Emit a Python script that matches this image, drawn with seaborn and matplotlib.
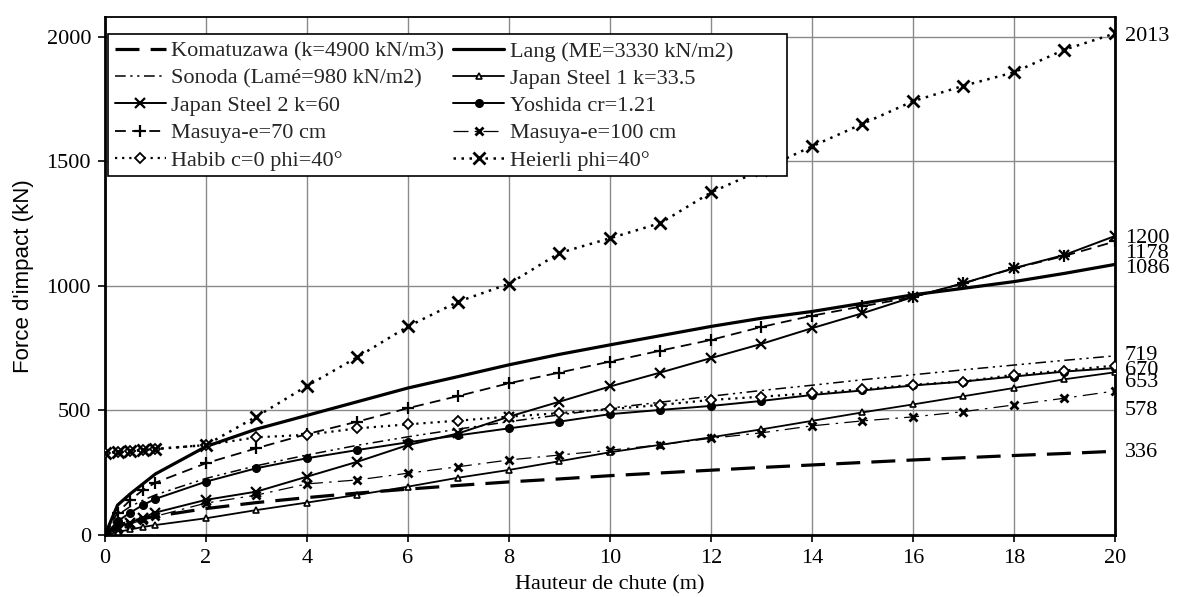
import matplotlib
matplotlib.use("Agg")
import matplotlib.pyplot as plt
from matplotlib.patches import Rectangle
import numpy as np
import pandas as pd
import seaborn as sns

# ---------------- data ----------------
hauteur = [0, 0.25, 0.5, 0.75, 1, 2, 3, 4, 5, 6, 7, 8, 9, 10, 11, 12,
           13, 14, 15, 16, 17, 18, 19, 20]

komatuzawa = [0, 38, 53, 65, 75, 106, 130, 150, 168, 184, 199, 213, 225, 238,
              249, 260, 271, 281, 291, 301, 310, 319, 327, 336]
lang = [0, 120, 165, 205, 245, 355, 425, 480, 535, 590, 636, 683, 725, 763,
        800, 837, 870, 897, 930, 964, 990, 1017, 1050, 1086]
sonoda = [0, 80, 114, 139, 161, 227, 278, 321, 360, 394, 425, 455, 482, 509,
          533, 557, 580, 601, 623, 643, 663, 682, 701, 719]
japan_steel_1 = [0, 12, 22, 32, 40, 67, 100, 130, 161, 194, 230, 261, 296, 332,
                 362, 392, 424, 458, 492, 524, 557, 590, 625, 653]
japan_steel_2 = [0, 30, 50, 70, 90, 141, 174, 234, 294, 361, 408, 475, 535, 596,
                 652, 710, 767, 830, 890, 955, 1011, 1071, 1124, 1200]
yoshida = [0, 55, 90, 120, 145, 214, 268, 308, 341, 372, 400, 428, 455, 485,
           502, 518, 538, 562, 580, 600, 616, 636, 656, 670]
masuya_70 = [0, 90, 140, 180, 210, 288, 348, 405, 455, 509, 558, 609, 652, 696,
             740, 783, 835, 880, 918, 955, 1010, 1070, 1120, 1178]
masuya_100 = [0, 25, 45, 60, 75, 128, 160, 205, 221, 248, 274, 301, 321, 340,
              362, 388, 410, 438, 458, 474, 495, 522, 549, 578]
habib = [330, 332, 336, 341, 345, 361, 392, 402, 428, 444, 459, 475, 489, 505,
         522, 542, 555, 569, 585, 603, 616, 643, 660, 680]
heierli = [330, 332, 336, 341, 345, 361, 475, 598, 714, 837, 937, 1008, 1132, 1191,
           1252, 1375, 1465, 1560, 1650, 1741, 1803, 1857, 1948, 2013]

labels = ["Komatuzawa (k=4900 kN/m3)", "Lang (ME=3330 kN/m2)",
          "Sonoda (Lamé=980 kN/m2)", "Japan Steel 1 k=33.5",
          "Japan Steel 2 k=60", "Yoshida cr=1.21",
          "Masuya-e=70 cm", "Masuya-e=100 cm",
          "Habib c=0 phi=40°", "Heierli phi=40°"]
series = [komatuzawa, lang, sonoda, japan_steel_1, japan_steel_2, yoshida,
          masuya_70, masuya_100, habib, heierli]

# ---------------- styles ----------------
styles = [
    dict(lw=2.3, dashes=(7.5, 3.5), marker=None),
    dict(lw=2.3, dashes=None, marker=None),
    dict(lw=1.1, dashes=(7, 3, 1.5, 3, 1.5, 3), marker=None),
    dict(lw=1.3, dashes=None, marker="^", ms=5, mfc="white", mew=1.2),
    dict(lw=1.4, dashes=None, marker="x", ms=7, mfc="black", mew=1.6),
    dict(lw=1.4, dashes=None, marker="o", ms=5.5, mfc="black", mew=1.0),
    dict(lw=1.3, dashes=(6, 3.5), marker="+", ms=8, mfc="black", mew=1.6),
    dict(lw=0.9, dashes=(12, 5, 2, 5), marker="x", ms=6, mfc="black", mew=2.0),
    dict(lw=1.6, dashes=(1, 2.2), marker="D", ms=5, mfc="white", mew=1.3),
    dict(lw=1.8, dashes=(1, 2.2), marker="x", ms=8, mfc="black", mew=2.0),
]

sns.set_theme(style="white")
plt.rcParams["font.family"] = ["Liberation Serif", "DejaVu Serif"]

fig = plt.figure(figsize=(11.78, 5.97), dpi=100)
ax = fig.add_axes([0.0891, 0.1039, 0.8574, 0.868])

for vals, lab, st in zip(series, labels, styles):
    df = pd.DataFrame({"H": hauteur, "F": vals})
    kw = {}
    if st["marker"] is not None:
        kw = dict(marker=st["marker"], markersize=st["ms"],
                  markerfacecolor=st["mfc"], markeredgecolor="black",
                  markeredgewidth=st["mew"])
    sns.lineplot(data=df, x="H", y="F", ax=ax, color="black", lw=st["lw"],
                 label=lab, errorbar=None, sort=False, zorder=3, **kw)
    line = ax.lines[-1]
    if st["dashes"] is not None:
        line.set_dashes(st["dashes"])
    else:
        line.set_linestyle("-")

ax.set_xlim(0, 20)
ax.set_ylim(0, 2080)
ax.set_xticks(np.arange(0, 21, 2))
ax.set_yticks(np.arange(0, 2001, 500))
ax.grid(True, color="#8a8a8a", lw=1.0, zorder=0)
ax.set_axisbelow(True)

for side in ["left", "bottom", "right"]:
    ax.spines[side].set_color("black")
    ax.spines[side].set_linewidth(2.0)
ax.spines["top"].set_color("black")
ax.spines["top"].set_linewidth(1.3)

ax.tick_params(axis="both", direction="out", length=5, width=1.2, color="black",
               labelsize=16, labelcolor="black", pad=5,
               bottom=True, left=True)

ax.set_xlabel("Hauteur de chute (m)", fontsize=16, color="black",
              family=["Liberation Serif"])
ax.xaxis.set_label_coords(0.5, -0.078)
ax.set_ylabel("Force d'impact (kN)", fontsize=16, color="black",
              family=["Liberation Sans"])
ax.yaxis.set_label_coords(-0.070, 0.5)

# end-value annotations on the right
label_series = [heierli, japan_steel_2, masuya_70, lang, sonoda, yoshida,
                japan_steel_1, masuya_100, komatuzawa]
label_pos = [2000, 1190, 1131, 1071, 719, 662, 612, 498, 330]
for vals, ypos in zip(label_series, label_pos):
    ax.annotate(f"{vals[-1]}", xy=(20, ypos), xycoords="data",
                xytext=(7, 0), textcoords="offset points",
                ha="left", va="center", fontsize=16, color="black",
                annotation_clip=False)

# legend box (wider than its content, as in the reference)
box = Rectangle((0.003, 0.693), 0.672, 0.273, transform=ax.transAxes,
                facecolor="white", edgecolor="black", lw=1.2, zorder=9)
ax.add_patch(box)

# legend (row-major order as in the reference)
handles, labs = ax.get_legend_handles_labels()
order = [0, 2, 4, 6, 8, 1, 3, 5, 7, 9]
leg = ax.legend([handles[i] for i in order], [labs[i] for i in order],
                ncol=2, loc="upper left", bbox_to_anchor=(0.003, 0.966),
                borderaxespad=0, fontsize=16, frameon=False,
                handlelength=2.3, handletextpad=0.25, columnspacing=0.4,
                labelspacing=0.3, borderpad=0.3)
leg.set_zorder(10)

fig.savefig("out.png", dpi=100, facecolor="white")
